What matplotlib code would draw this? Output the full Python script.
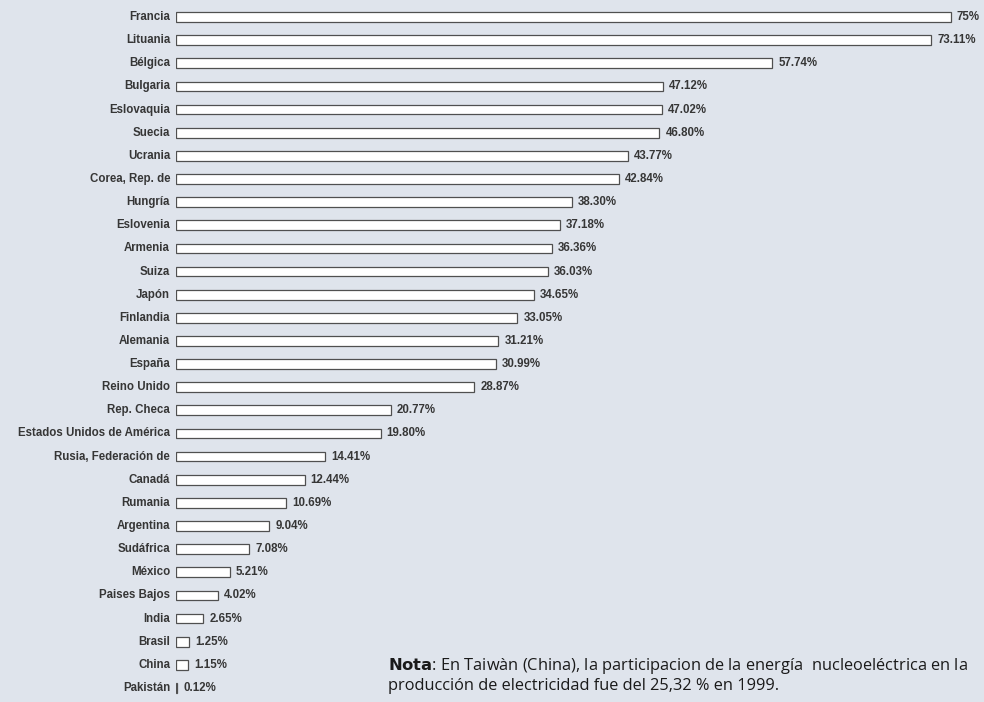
import matplotlib
matplotlib.use("Agg")
from matplotlib import pyplot as plt

# Participación de la energía nucleoeléctrica (%)
countries = [
    "Francia", "Lituania", "Bélgica", "Bulgaria", "Eslovaquia", "Suecia",
    "Ucrania", "Corea, Rep. de", "Hungría", "Eslovenia", "Armenia", "Suiza",
    "Japón", "Finlandia", "Alemania", "España", "Reino Unido", "Rep. Checa",
    "Estados Unidos de América", "Rusia, Federación de", "Canadá", "Rumania",
    "Argentina", "Sudáfrica", "México", "Paises Bajos", "India", "Brasil",
    "China", "Pakistán",
]
shares = [
    75.0, 73.11, 57.74, 47.12, 47.02, 46.80, 43.77, 42.84, 38.30, 37.18,
    36.36, 36.03, 34.65, 33.05, 31.21, 30.99, 28.87, 20.77, 19.80, 14.41,
    12.44, 10.69, 9.04, 7.08, 5.21, 4.02, 2.65, 1.25, 1.15, 0.12,
]
share_labels = [
    "75%", "73.11%", "57.74%", "47.12%", "47.02%", "46.80%", "43.77%",
    "42.84%", "38.30%", "37.18%", "36.36%", "36.03%", "34.65%", "33.05%",
    "31.21%", "30.99%", "28.87%", "20.77%", "19.80%", "14.41%", "12.44%",
    "10.69%", "9.04%", "7.08%", "5.21%", "4.02%", "2.65%", "1.25%",
    "1.15%", "0.12%",
]

bg = "#dfe4ec"
txt = "#363636"
plt.rcParams["font.family"] = ["Liberation Sans", "DejaVu Sans"]

fig = plt.figure(figsize=(9.84, 7.02), dpi=100, facecolor=bg)
ax = fig.add_axes([176 / 984, 0, 1 - 176 / 984, 1])
ax.set_facecolor(bg)

pos = list(range(len(countries)))
ax.barh(pos, shares, height=0.42, color="white", edgecolor="#505050",
        linewidth=0.9)

for y, v, lab, name in zip(pos, shares, share_labels, countries):
    ax.annotate(lab, (v, y), xytext=(4.3, 0), textcoords="offset points",
                ha="left", va="center", fontsize=8.3, fontweight="bold",
                color=txt)
    ax.annotate(name, (0, y), xytext=(-4.3, 0), textcoords="offset points",
                ha="right", va="center", fontsize=8.3, fontweight="bold",
                color=txt, annotation_clip=False)

ax.set_xlim(0, (984 - 176) / 10.33)
ax.set_ylim(29 + 14 / 23.14, -17 / 23.14)
ax.axis("off")

fig.text(388 / 984, 1 - 666 / 702,
         r"$\bf{Nota}$: En Taiwàn (China), la participacion de la energía  "
         "nucleoeléctrica en la", fontsize=11.8, family="Open Sans",
         color="#1a1a1a", va="center", ha="left")
fig.text(388 / 984, 1 - 686 / 702,
         "producción de electricidad fue del 25,32 % en 1999.",
         fontsize=11.8, family="Open Sans", color="#1a1a1a",
         va="center", ha="left")

plt.savefig("out.png", dpi=100, facecolor=bg)
